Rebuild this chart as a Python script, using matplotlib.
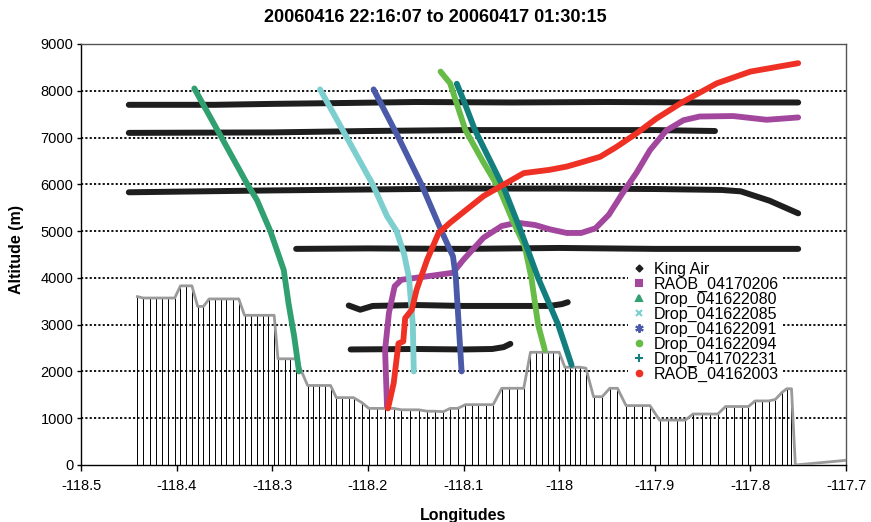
import matplotlib
matplotlib.use("Agg")
import matplotlib.pyplot as plt
from matplotlib.lines import Line2D

plt.rcParams['font.family'] = ['Liberation Sans', 'DejaVu Sans']

title = "20060416 22:16:07 to 20060417 01:30:15"

# terrain under the flight track (longitude, altitude m)
terrain_lon = [-118.441, -118.435, -118.428, -118.422, -118.415, -118.409, -118.402, -118.396,
               -118.390, -118.384, -118.378, -118.372, -118.366, -118.360, -118.354, -118.348,
               -118.341, -118.335, -118.329, -118.322, -118.316, -118.310, -118.304, -118.298,
               -118.294, -118.287, -118.281, -118.275, -118.263, -118.257, -118.251, -118.245,
               -118.239, -118.233, -118.227, -118.220, -118.215, -118.206, -118.199, -118.190,
               -118.182, -118.173, -118.165, -118.156, -118.147, -118.138, -118.130, -118.121,
               -118.114, -118.106, -118.098, -118.091, -118.085, -118.076, -118.069, -118.060,
               -118.052, -118.044, -118.037, -118.030, -118.024, -118.018, -118.012, -118.006,
               -118.000, -117.994, -117.989, -117.983, -117.978, -117.972, -117.964, -117.955,
               -117.947, -117.939, -117.930, -117.922, -117.913, -117.905, -117.895, -117.886,
               -117.877, -117.868, -117.860, -117.851, -117.842, -117.834, -117.826, -117.817,
               -117.809, -117.802, -117.795, -117.788, -117.781, -117.774, -117.767, -117.762,
               -117.757, -117.753, -117.700]
terrain_alt = [3600, 3570, 3570, 3570, 3570, 3570, 3570, 3830,
               3830, 3830, 3390, 3390, 3550, 3550, 3550, 3550,
               3550, 3550, 3200, 3200, 3200, 3200, 3200, 3200,
               2270, 2270, 2270, 2270, 1700, 1700, 1700, 1700,
               1700, 1440, 1440, 1440, 1440, 1330, 1210, 1210,
               1210, 1210, 1180, 1180, 1180, 1150, 1150, 1140,
               1210, 1210, 1290, 1290, 1290, 1290, 1290, 1640,
               1640, 1640, 1640, 2410, 2410, 2410, 2410, 2410,
               2410, 2090, 2090, 2090, 2090, 2070, 1460, 1460,
               1640, 1640, 1270, 1270, 1270, 1270, 960, 960,
               960, 960, 1090, 1090, 1090, 1090, 1250, 1250,
               1250, 1250, 1370, 1370, 1370, 1400, 1550, 1630,
               1630, 0, 100]

# King Air flight legs
king_air_legs = [
    ([-118.450, -118.36, -118.30, -118.22, -118.15, -118.05, -117.95, -117.85, -117.750],
     [7700, 7700, 7720, 7740, 7760, 7750, 7760, 7750, 7750]),
    ([-118.450, -118.30, -118.20, -118.10, -118.00, -117.90, -117.837],
     [7100, 7110, 7140, 7160, 7160, 7160, 7140]),
    ([-118.450, -118.30, -118.10, -118.00, -117.90, -117.83, -117.81, -117.78, -117.750],
     [5830, 5870, 5910, 5910, 5900, 5880, 5850, 5650, 5380]),
    ([-118.275, -118.20, -118.10, -118.00, -117.90, -117.750],
     [4620, 4630, 4620, 4640, 4620, 4620]),
    ([-118.220, -118.208, -118.195, -118.15, -118.10, -118.05, -118.01, -117.997, -117.991],
     [3410, 3320, 3400, 3420, 3400, 3400, 3400, 3440, 3480]),
    ([-118.218, -118.15, -118.10, -118.07, -118.058, -118.051],
     [2470, 2480, 2470, 2480, 2520, 2590]),
]

raob_0206_lon = [-118.180, -118.182, -118.178, -118.172, -118.165, -118.132, -118.111, -118.100,
                 -118.079, -118.060, -118.044, -118.025, -118.010, -117.992, -117.977, -117.962,
                 -117.948, -117.934, -117.919, -117.905, -117.888, -117.870, -117.853, -117.818,
                 -117.783, -117.750]
raob_0206_alt = [1250, 2460, 3250, 3820, 3960, 4050, 4110, 4390,
                 4860, 5110, 5180, 5130, 5040, 4960, 4960, 5060,
                 5350, 5800, 6250, 6730, 7150, 7370, 7450, 7460,
                 7380, 7430]

drop_080_lon = [-118.3815, -118.353, -118.326, -118.316, -118.302, -118.288, -118.283, -118.277,
                -118.272]
drop_080_alt = [8050, 7000, 6000, 5665, 5000, 4170, 3460, 2740, 2000]

drop_085_lon = [-118.250, -118.222, -118.195, -118.180, -118.170, -118.162, -118.157, -118.153,
                -118.152]
drop_085_alt = [8030, 7000, 6000, 5320, 5000, 4500, 4000, 3000, 2000]

drop_091_lon = [-118.194, -118.168, -118.144, -118.123, -118.111, -118.108, -118.105, -118.102]
drop_091_alt = [8030, 7000, 6000, 5000, 4460, 4000, 3000, 2000]

drop_094_lon = [-118.124, -118.114, -118.098, -118.080, -118.062, -118.048, -118.036, -118.029,
                -118.022, -118.015]
drop_094_alt = [8410, 8160, 7160, 6500, 5880, 5200, 4680, 4000, 3000, 2460]

drop_231_lon = [-118.107, -118.100, -118.088, -118.072, -118.057, -118.040, -118.022, -118.001,
                -117.987]
drop_231_alt = [8150, 7800, 7160, 6500, 5880, 5000, 4000, 3000, 2140]

raob_2003_lon = [-118.179, -118.173, -118.168, -118.163, -118.161, -118.154, -118.149, -118.138,
                 -118.126, -118.114, -118.079, -118.037, -118.010, -117.992, -117.975, -117.957,
                 -117.940, -117.919, -117.898, -117.870, -117.835, -117.800, -117.750]
raob_2003_alt = [1210, 1750, 2600, 2640, 3140, 3320, 3750, 4390,
                 4960, 5180, 5750, 6240, 6310, 6380, 6480, 6590,
                 6800, 7090, 7410, 7770, 8160, 8410, 8590]

xticks = [-118.5, -118.4, -118.3, -118.2, -118.1, -118.0, -117.9, -117.8, -117.7]
xtick_labels = ['-118.5', '-118.4', '-118.3', '-118.2', '-118.1', '-118', '-117.9', '-117.8', '-117.7']
yticks = [0, 1000, 2000, 3000, 4000, 5000, 6000, 7000, 8000, 9000]

series = [
    ("RAOB_04170206", raob_0206_lon, raob_0206_alt, '#a3479e', 's', 4),
    ("Drop_041622080", drop_080_lon, drop_080_alt, '#30a070', '^', 5),
    ("Drop_041622085", drop_085_lon, drop_085_alt, '#7dcfcf', 'x', 5),
    ("Drop_041622091", drop_091_lon, drop_091_alt, '#4b5aa8', (6, 2, 0), 6),
    ("Drop_041622094", drop_094_lon, drop_094_alt, '#67bb47', 'o', 4),
    ("Drop_041702231", drop_231_lon, drop_231_alt, '#137e7e', '+', 6),
    ("RAOB_04162003", raob_2003_lon, raob_2003_alt, '#ee3124', 'o', 4),
]

dpi = 100
fig = plt.figure(figsize=(871 / dpi, 522 / dpi), dpi=dpi)
ax = fig.add_axes([81 / 871, 1 - 465 / 522, 765 / 871, 421 / 522])

ax.set_xlim(-118.5, -117.7)
ax.set_ylim(0, 9000)

for y in yticks[1:]:
    ax.axhline(y, color='black', lw=1.3, dashes=(1.2, 1.2), zorder=1)

# terrain: drop lines + grey outline
ax.vlines(terrain_lon, 0, terrain_alt, colors='black', lw=0.7, zorder=2)
ax.plot(terrain_lon, terrain_alt, color='#9a9a9a', lw=2, zorder=3)

for lon, alt in king_air_legs:
    ax.plot(lon, alt, color='#1e1e1e', lw=4.3, solid_capstyle='round', zorder=4)

for name, lon, alt, color, marker, ms in series:
    ax.plot(lon, alt, color=color, lw=4.2, solid_capstyle='round', solid_joinstyle='round', zorder=5)

handles = [Line2D([], [], color='#1e1e1e', marker='D', ms=3.5, ls='none')]
labels = ["King Air"]
for name, lon, alt, color, marker, ms in series:
    handles.append(Line2D([], [], color=color, marker=marker, ms=ms, mew=1.5, ls='none'))
    labels.append(name)

leg = ax.legend(handles, labels, loc='upper left', bbox_to_anchor=(628 / 871, 1 - 257 / 522),
                bbox_transform=fig.transFigure, fontsize=11.5, frameon=True, fancybox=False,
                borderpad=0.3, handlelength=0.8, handletextpad=0.5, labelspacing=-0.01,
                borderaxespad=0)
leg.get_frame().set_facecolor('white')
leg.get_frame().set_edgecolor('none')
leg.get_frame().set_alpha(1)
leg.set_zorder(6)

ax.set_xticks(xticks)
ax.set_xticklabels(xtick_labels)
ax.set_yticks(yticks)
ax.set_yticklabels([str(v) for v in yticks])
ax.tick_params(labelsize=10.5, length=4, width=1, color='black', pad=6)
ax.tick_params(axis='y', length=3, pad=2.5)

for side in ['left', 'bottom']:
    ax.spines[side].set_color('black')
    ax.spines[side].set_linewidth(1)
for side in ['top', 'right']:
    ax.spines[side].set_color('#555555')
    ax.spines[side].set_linewidth(1)

fig.suptitle(title, x=0.5, y=1 - 17 / 522, va='center', fontsize=13, fontweight='bold')
fig.text(17 / 871, 1 - 250 / 522, "Altitude (m)", rotation=90, ha='center', va='center',
         fontsize=11.5, fontweight='bold')
fig.text(463 / 871, 2 / 522, "Longitudes", ha='center', va='baseline',
         fontsize=11.5, fontweight='bold')

fig.savefig("out.png", dpi=dpi)
plt.close(fig)
